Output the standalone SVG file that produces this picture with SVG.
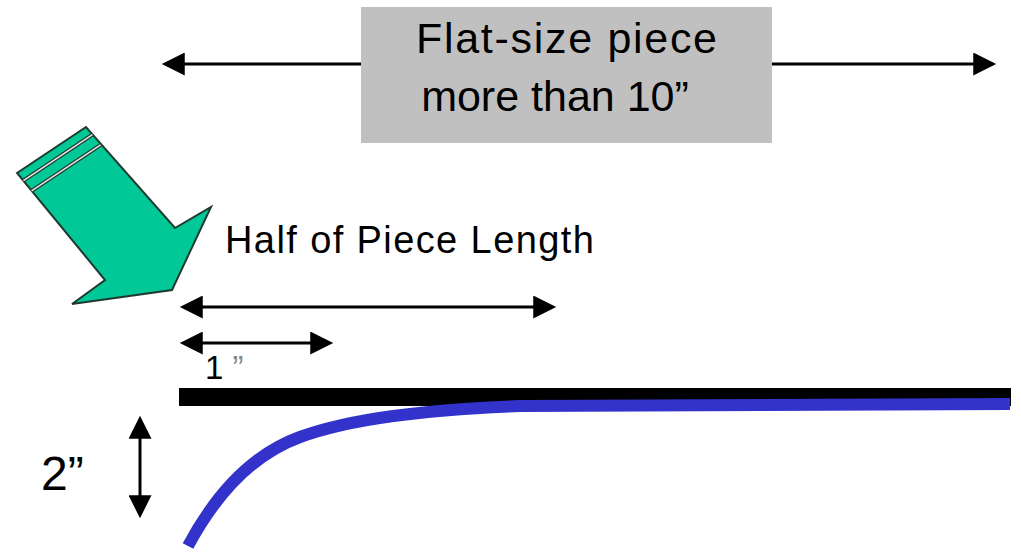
<svg xmlns="http://www.w3.org/2000/svg" width="1021" height="552" viewBox="0 0 1021 552">
<style>
.txt{font-family:"Liberation Sans",Arial,sans-serif;fill:#000}
.dim{stroke:#000;stroke-width:3;fill:none;marker-start:url(#ah);marker-end:url(#ah)}
</style>
<defs>
<marker id="ah" viewBox="0 0 24 24" refX="6" refY="12" markerWidth="24" markerHeight="23" markerUnits="userSpaceOnUse" orient="auto-start-reverse">
<path d="M0,0 L24,12 L0,24 Z" fill="#000"/>
</marker>
</defs>
<rect width="1021" height="552" fill="#fff"/>
<g id="connectors">
<line class="dim" x1="179" y1="64" x2="979" y2="64"/>
<line class="dim" x1="197" y1="307" x2="539" y2="307"/>
<line class="dim" x1="197" y1="343" x2="316" y2="343"/>
<line class="dim" x1="140" y1="433" x2="140" y2="501"/>
</g>
<g id="flat-size-box">
<rect x="361" y="7" width="411" height="136" fill="#c0c0c0"/>
<text class="txt" x="416" y="53" font-size="43" letter-spacing="1.7">Flat-size piece</text>
<text class="txt" x="555" y="111" font-size="43" text-anchor="middle">more than 10”</text>
</g>
<g id="green-arrow">
<polygon points="17,173 86,127 175,228 211,207 172,290 72,304 105,280" fill="#00c896" stroke="#1e3a30" stroke-width="2" stroke-linejoin="miter"/>
<line x1="23.4" y1="180.7" x2="92.4" y2="134.7" stroke="#1e3a30" stroke-width="4"/>
<line x1="23.4" y1="180.7" x2="92.4" y2="134.7" stroke="#e8e8e8" stroke-width="1.5"/>
<line x1="31.6" y1="190.8" x2="100.6" y2="144.8" stroke="#1e3a30" stroke-width="4"/>
<line x1="31.6" y1="190.8" x2="100.6" y2="144.8" stroke="#e8e8e8" stroke-width="1.5"/>
</g>
<g id="half-label">
<text class="txt" x="225" y="253" font-size="38" letter-spacing="1.4">Half of Piece Length</text>
</g>
<g id="one-inch-label">
<text class="txt" x="205" y="379" font-size="33" fill="#222">1 <tspan fill="#888">”</tspan></text>
</g>
<g id="flat-bar">
<rect x="179" y="388" width="832" height="18" fill="#000"/>
</g>
<g id="curled-piece">
<path d="M188,546 C210,505 245,457 300,437 C350,419 420,410 520,406 L1010,404" fill="none" stroke="#3333cc" stroke-width="12"/>
</g>
<g id="two-inch-label">
<text class="txt" x="41" y="490" font-size="48">2”</text>
</g>
</svg>
